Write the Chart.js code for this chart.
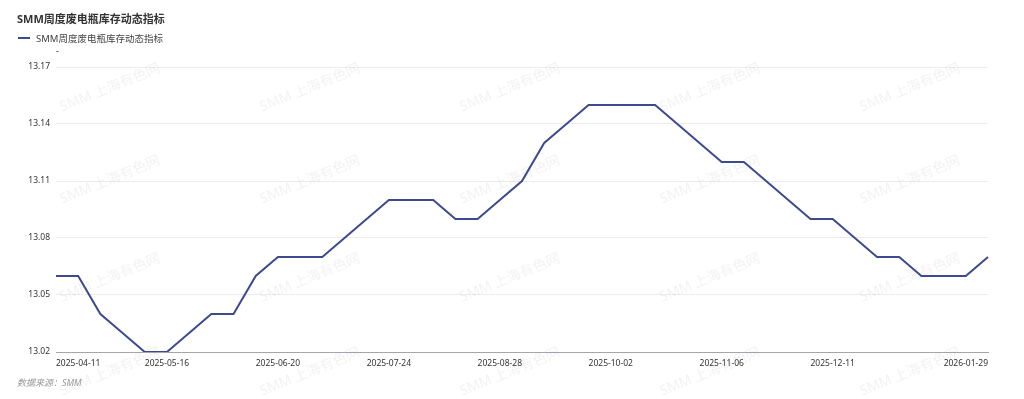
<!DOCTYPE html>
<html>
<head>
<meta charset="utf-8">
<script src="https://cdn.jsdelivr.net/npm/chart.js@4/dist/chart.umd.min.js"></script>
<style>
  html, body { margin: 0; padding: 0; background: #fff; }
  body { width: 1024px; height: 399px; position: relative; overflow: hidden;
         font-family: "Noto Sans", "Noto Sans CJK SC", sans-serif; }
  #wrap { position: absolute; left: 0; top: 0; width: 1024px; height: 399px; }
  .title { position: absolute; left: 17px; top: 10px; font-size: 11px; font-weight: bold; color: #333; white-space: nowrap; }
  .legend { position: absolute; left: 18px; top: 31px; font-size: 9.5px; color: #444; white-space: nowrap; display: flex; align-items: center; }
  .legend .sw { display: inline-block; width: 12px; height: 2px; background: #3D4A8F; margin-right: 6px; }
  .unit { position: absolute; left: 56px; top: 44px; font-size: 9px; color: #333; }
  .footer { position: absolute; left: 17px; top: 376px; font-size: 9px; font-style: italic; color: #999; white-space: nowrap; }
</style>
</head>
<body>
<div id="wrap"><canvas id="c" width="1024" height="399"></canvas></div>
<div class="title">SMM周度废电瓶库存动态指标</div>
<div class="legend"><span class="sw"></span>SMM周度废电瓶库存动态指标</div>
<div class="unit">-</div>
<div class="footer">数据来源：SMM</div>
<script>
const categories = [
  "2025-04-11","2025-04-18","2025-04-25","2025-05-02","2025-05-09","2025-05-16","2025-05-23","2025-05-30",
  "2025-06-06","2025-06-13","2025-06-20","2025-06-27","2025-07-03","2025-07-10","2025-07-17","2025-07-24",
  "2025-07-31","2025-08-07","2025-08-14","2025-08-21","2025-08-28","2025-09-04","2025-09-11","2025-09-18",
  "2025-09-25","2025-10-02","2025-10-09","2025-10-16","2025-10-23","2025-10-30","2025-11-06","2025-11-13",
  "2025-11-20","2025-11-27","2025-12-04","2025-12-11","2025-12-18","2025-12-25","2026-01-01","2026-01-08",
  "2026-01-15","2026-01-22","2026-01-29"
];
const seriesName = "SMM周度废电瓶库存动态指标";
const values = [
  13.06,13.06,13.04,13.03,13.02,13.02,13.03,13.04,13.04,13.06,
  13.07,13.07,13.07,13.08,13.09,13.10,13.10,13.10,13.09,13.09,
  13.10,13.11,13.13,13.14,13.15,13.15,13.15,13.15,13.14,13.13,
  13.12,13.12,13.11,13.10,13.09,13.09,13.08,13.07,13.07,13.06,
  13.06,13.06,13.07
];
const shownXLabels = ["2025-04-11","2025-05-16","2025-06-20","2025-07-24","2025-08-28","2025-10-02","2025-11-06","2025-12-11","2026-01-29"];
const yTicks = [13.02, 13.05, 13.08, 13.11, 13.14, 13.17];
const watermarkText = "SMM 上海有色网";

const watermark = {
  id: 'watermark',
  beforeDatasetsDraw(chart) {
    const ctx = chart.ctx;
    ctx.save();
    ctx.font = '14px "Noto Sans", "Noto Sans CJK SC", sans-serif';
    ctx.fillStyle = 'rgba(0,0,0,0.055)';
    ctx.textAlign = 'center';
    ctx.textBaseline = 'middle';
    const cols = [110, 310, 510, 710, 910];
    const rows = [88, 180, 278, 372];
    for (const y of rows) for (const x of cols) {
      ctx.save();
      ctx.translate(x, y);
      ctx.rotate(-22 * Math.PI / 180);
      ctx.fillText(watermarkText, 0, 0);
      ctx.restore();
    }
    ctx.restore();
  }
};

new Chart(document.getElementById('c'), {
  type: 'line',
  data: {
    labels: categories,
    datasets: [{
      label: seriesName,
      data: values,
      borderColor: '#3D4A8F',
      backgroundColor: '#3D4A8F',
      borderWidth: 2,
      pointRadius: 0,
      pointHoverRadius: 0,
      tension: 0,
      fill: false
    }]
  },
  options: {
    responsive: false,
    animation: false,
    devicePixelRatio: 1,
    layout: { padding: { top: 67, right: 36, bottom: 0, left: 0 } },
    plugins: { legend: { display: false }, title: { display: false }, tooltip: { enabled: false } },
    scales: {
      x: {
        type: 'category',
        offset: false,
        grid: { display: false, drawTicks: false },
        border: { display: true, color: '#a3a6b0', width: 1 },
        afterFit: (s) => { s.height = 47; },
        ticks: {
          autoSkip: false,
          maxRotation: 0,
          minRotation: 0,
          align: 'inner',
          padding: 6,
          color: '#333',
          font: { size: 8.5, family: '"Noto Sans", "Noto Sans CJK SC", sans-serif' },
          callback: function (v, i) {
            const l = categories[i];
            return shownXLabels.includes(l) ? l : '';
          }
        }
      },
      y: {
        min: 13.02,
        max: 13.17,
        afterFit: (s) => { s.width = 56; },
        afterBuildTicks: (s) => { s.ticks = yTicks.map(v => ({ value: v })); },
        grid: { color: '#ececec', drawTicks: false, lineWidth: 1 },
        border: { display: false },
        ticks: {
          padding: 6,
          color: '#333',
          font: { size: 8.5, family: '"Noto Sans", "Noto Sans CJK SC", sans-serif' },
          callback: (v) => Number(v).toFixed(2)
        }
      }
    }
  },
  plugins: [watermark]
});
</script>
</body>
</html>
